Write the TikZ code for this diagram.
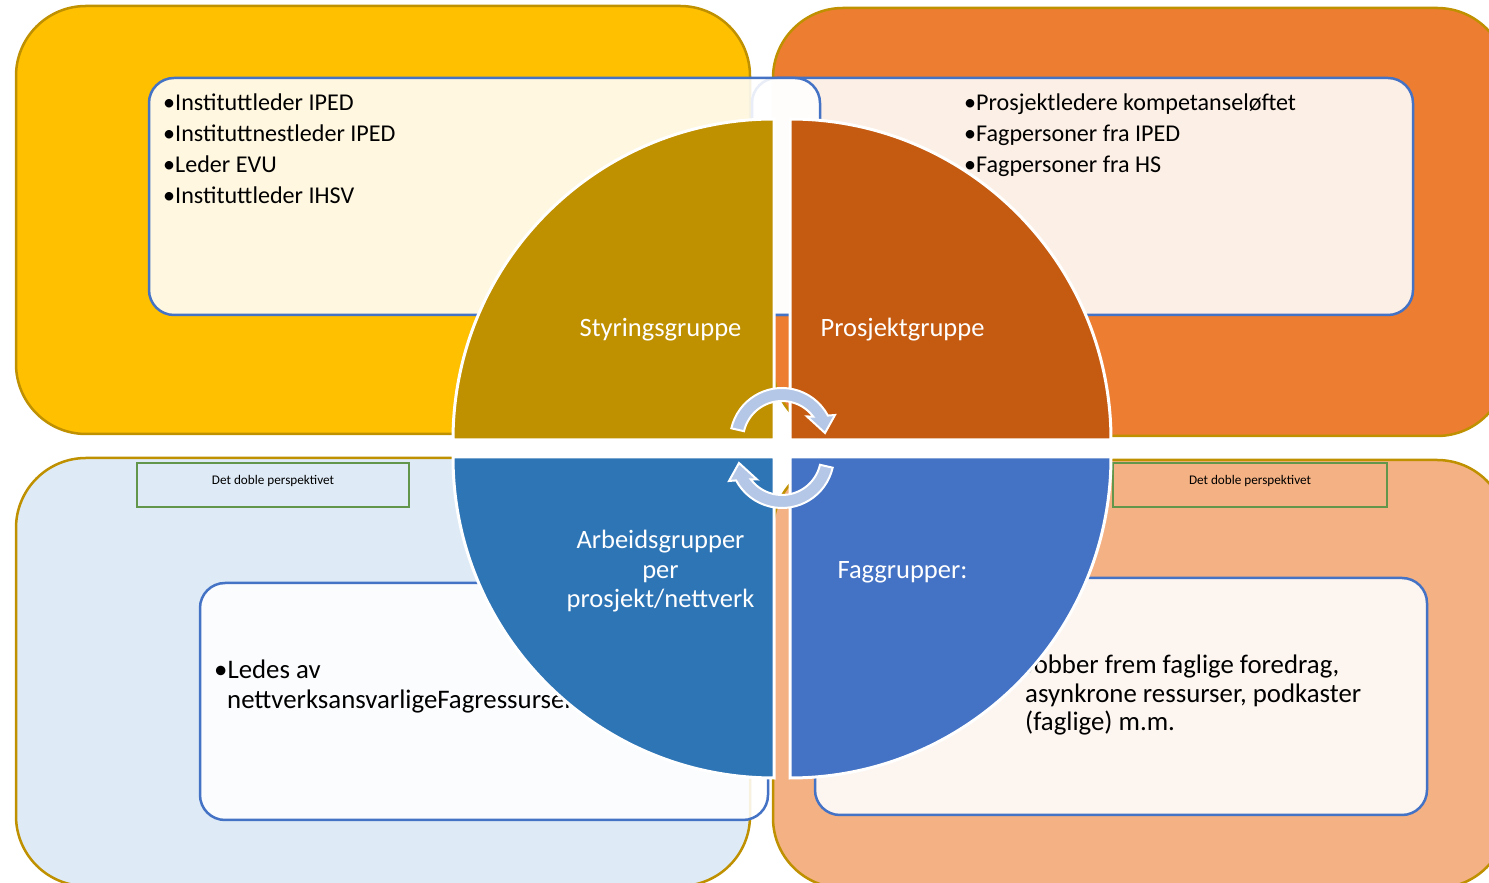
\documentclass[tikz,border=0pt]{standalone}
\usepackage{fontspec}
\setmainfont{Carlito}
\usetikzlibrary{calc}
\definecolor{goldb}{HTML}{BF9000}
\definecolor{yel}{HTML}{FFC000}
\definecolor{ora}{HTML}{ED7D31}
\definecolor{lblue}{HTML}{DEEBF7}
\definecolor{peach}{HTML}{F4B183}
\definecolor{bluebd}{HTML}{4472C4}
\definecolor{qtl}{HTML}{BF9000}
\definecolor{qtr}{HTML}{C55A11}
\definecolor{qbl}{HTML}{2E75B6}
\definecolor{qbr}{HTML}{4472C4}
\definecolor{arrc}{HTML}{B4C7E7}
\definecolor{grn}{HTML}{62964A}
\newcommand\fntA{\fontsize{24.1}{31}\selectfont}
\newcommand\fntB{\fontsize{26.8}{29}\selectfont}
\newcommand\fntQ{\fontsize{26.5}{29}\selectfont}
\newcommand\fntC{\fontsize{13.2}{15}\selectfont}
\begin{document}
\begin{tikzpicture}[x=1pt,y=1pt,
  outerbox/.style={draw=goldb, line width=2.5pt, rounded corners=70pt},
  innerbox/.style={draw=bluebd, line width=2.5pt, rounded corners=25pt, fill=white, fill opacity=0.88},
  smallbox/.style={draw=grn, line width=2pt},
  quad/.style={draw=white, line width=3pt},
  cyc/.style={fill=arrc, draw=white, line width=2pt},
  btxt/.style={anchor=base west, inner sep=0pt, font=\fntA, text=black},
  ctxt/.style={anchor=base west, inner sep=0pt, font=\fntB, text=black},
  qtxt/.style={anchor=base, inner sep=0pt, font=\fntQ, text=white},
  stxt/.style={anchor=base, inner sep=0pt, font=\fntC, text=black}]
\useasboundingbox (0,0) rectangle (1489,883);
\clip (0,0) rectangle (1489,883);
% outer boxes
\path[outerbox, fill=yel] (16,449) rectangle (750,877);
\path[outerbox, fill=ora] (773,447) rectangle (1507,875);
\path[outerbox, fill=lblue] (16,-3) rectangle (750,425);
\path[outerbox, fill=peach] (773,-5) rectangle (1507,423);
% inner boxes
\path[innerbox] (752,568) rectangle (1413,805);
\path[innerbox] (149,568) rectangle (820,805);
\path[innerbox] (815,68) rectangle (1427,305);
\path[innerbox] (200,63) rectangle (768,300);
% small boxes
\path[smallbox] (137,376) rectangle (409,420);
\path[smallbox] (1113,376) rectangle (1387,420);
\node[stxt] (s1) at (273,398.5) {Det doble perspektivet};
\node[stxt] (s2) at (1250,398.5) {Det doble perspektivet};
% texts
\node[btxt] (a1) at (163,772) {•Instituttleder IPED};
\node[btxt] (a2) at (163,741) {•Instituttnestleder IPED};
\node[btxt] (a3) at (163,710) {•Leder EVU};
\node[btxt] (a4) at (163,679) {•Instituttleder IHSV};
\node[btxt] (b1) at (964,772) {•Prosjektledere kompetanseløftet};
\node[btxt] (b2) at (964,741) {•Fagpersoner fra IPED};
\node[btxt] (b3) at (964,710) {•Fagpersoner fra HS};
\node[ctxt] (c1) at (214,204) {•Ledes av};
\node[ctxt] (c2) at (227,174.5) {nettverksansvarligeFagressurser};
\node[ctxt] (d1) at (1025,209) {Jobber frem faglige foredrag,};
\node[ctxt] (d2) at (1025,180.5) {asynkrone ressurser, podkaster};
\node[ctxt] (d3) at (1025,152) {(faglige) m.m.};
% quadrants
\path[quad, fill=qtl] (774,443) -- ++(-321,0) arc[start angle=180, end angle=90, radius=321] -- cycle;
\path[quad, fill=qtr] (790,443) -- ++(0,321) arc[start angle=90, end angle=0, radius=321] -- cycle;
\path[quad, fill=qbl] (774,426) -- ++(-321,0) arc[start angle=180, end angle=270, radius=321] -- cycle;
\path[quad, fill=qbr] (790,426) -- ++(321,0) arc[start angle=0, end angle=-90, radius=321] -- cycle;
\node[qtxt] (q1) at (660.5,546) {Styringsgruppe};
\node[qtxt] (q2) at (902.5,546) {Prosjektgruppe};
\node[qtxt] (q3a) at (660.5,334) {Arbeidsgrupper};
\node[qtxt] (q3b) at (660.5,304) {per};
\node[qtxt] (q3c) at (660.5,275) {prosjekt/nettverk};
\node[qtxt] (q4) at (902.5,304) {Faggrupper:};
% cycle arrows
\coordinate (C1) at (782,443);
\coordinate (C2) at (782,427);
\path[cyc] ($(C1)+(167:52)$) arc[start angle=167, end angle=28, radius=52]
  -- (835,468) -- (825,450) -- (807,466.5) -- ($(C1)+(37:39)$)
  arc[start angle=37, end angle=167, radius=39] -- cycle;
\path[cyc] ($(C2)+(347:52)$) arc[start angle=347, end angle=208, radius=52]
  -- (729,402) -- (739,420) -- (757,403.5) -- ($(C2)+(217:39)$)
  arc[start angle=217, end angle=347, radius=39] -- cycle;
\end{tikzpicture}
\end{document}
